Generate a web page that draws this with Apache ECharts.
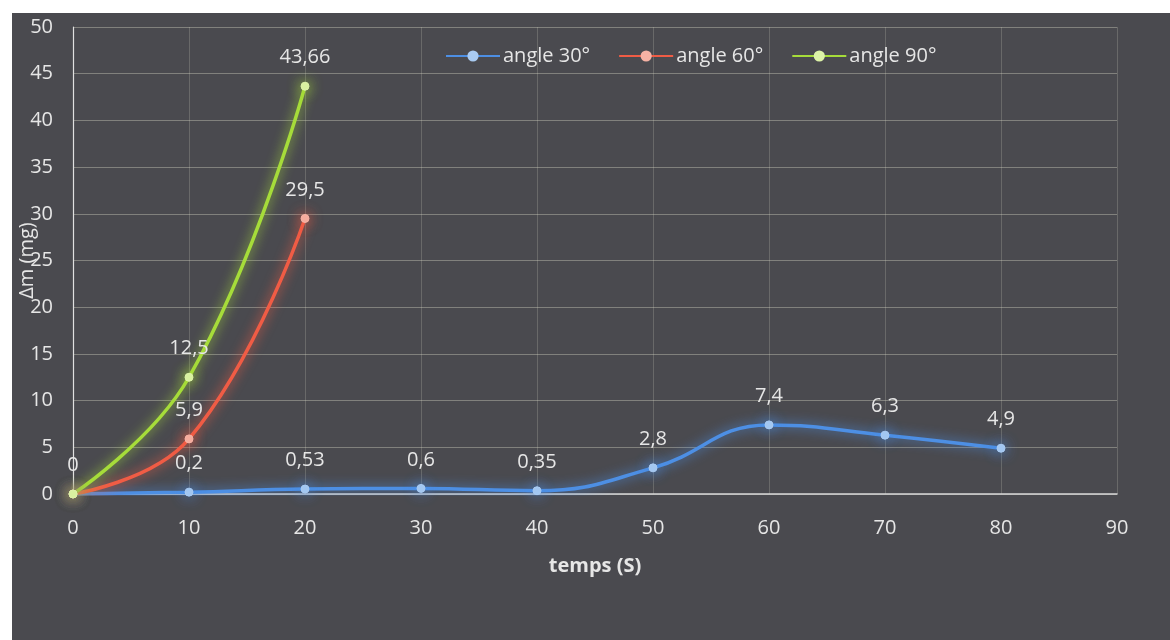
<!DOCTYPE html>
<html>
<head>
<meta charset="utf-8">
<script src="https://cdn.jsdelivr.net/npm/echarts@6/dist/echarts.min.js"></script>
<style>
  html, body { margin: 0; padding: 0; background: #ffffff; }
  #chart { position: absolute; left: 12px; top: 13px; width: 1158px; height: 627px; }
</style>
</head>
<body>
<div id="chart"></div>
<script>
// Mass loss Δm (mg) versus time (s) for three impact angles
const temps = [0, 10, 20, 30, 40, 50, 60, 70, 80];
const angle30 = [0, 0.2, 0.53, 0.6, 0.35, 2.8, 7.4, 6.3, 4.9];
const angle60 = [0, 5.9, 29.5];
const angle90 = [0, 12.5, 43.66];
const seriesNames = ['angle 30°', 'angle 60°', 'angle 90°'];

const FONT = '"Open Sans", "DejaVu Sans", sans-serif';
const TEXT = '#e6e6e6';

function fmt(v) { return String(v).replace('.', ','); }

function pairs(values, showFirst) {
  return values.map((v, i) => {
    const item = { value: [temps[i], v] };
    if (i === 0 && !showFirst) item.label = { show: false };
    return item;
  });
}

function lineSeries(name, values, lineColor, dotColor, showFirst) {
  return {
    name: name,
    type: 'line',
    smooth: 0.45,
    data: pairs(values, showFirst),
    symbol: 'circle',
    symbolSize: 8,
    lineStyle: { color: lineColor, width: 3.5, shadowColor: lineColor, shadowBlur: 12 },
    itemStyle: { color: dotColor, borderColor: dotColor, shadowColor: lineColor, shadowBlur: 14 },
    label: {
      show: true, position: 'top', distance: 14,
      color: TEXT, fontFamily: FONT, fontSize: 20,
      formatter: p => fmt(p.value[1])
    },
    emphasis: { disabled: true },
    z: 3
  };
}

const chart = echarts.init(document.getElementById('chart'), null, { renderer: 'canvas' });
chart.setOption({
  backgroundColor: '#4a4a4f',
  animation: false,
  textStyle: { fontFamily: FONT },
  legend: {
    data: seriesNames,
    left: 428, top: 28,
    itemWidth: 54, itemHeight: 14, itemGap: 28,
    textStyle: { color: TEXT, fontSize: 20, fontFamily: FONT, padding: [0, 0, 0, -2] }
  },
  grid: { left: 61, right: 53, top: 14, bottom: 146, containLabel: false, outerBoundsMode: 'none' },
  xAxis: {
    type: 'value', min: 0, max: 90, interval: 10,
    name: 'temps (S)', nameLocation: 'middle', nameGap: 62, nameMoveOverlap: false,
    nameTextStyle: { color: TEXT, fontSize: 20, fontWeight: 'bold', fontFamily: FONT },
    axisLine: { show: true, onZero: false, lineStyle: { color: '#d8d8d8', width: 1.5 } },
    axisTick: { show: false },
    axisLabel: { color: TEXT, fontSize: 20, margin: 24, fontFamily: FONT },
    splitLine: { show: true, lineStyle: { color: 'rgba(220,220,200,0.22)', width: 1 } }
  },
  yAxis: {
    type: 'value', min: 0, max: 50, interval: 5,
    name: 'Δm (mg)', nameLocation: 'middle', nameGap: 36, nameRotate: 90, nameMoveOverlap: false,
    nameTextStyle: { color: TEXT, fontSize: 20, fontFamily: FONT },
    axisLine: { show: true, lineStyle: { color: '#e0e0e0', width: 1.2 } },
    axisTick: { show: false },
    axisLabel: { color: TEXT, fontSize: 20, margin: 20, fontFamily: FONT },
    splitLine: { show: true, lineStyle: { color: 'rgba(220,220,200,0.38)', width: 1 } }
  },
  series: [
    lineSeries(seriesNames[0], angle30, '#4d8fe4', '#a9cbf2', false),
    lineSeries(seriesNames[1], angle60, '#f05c45', '#f6b2a4', false),
    lineSeries(seriesNames[2], angle90, '#a6dc3a', '#ddf3a8', true)
  ]
});
</script>
</body>
</html>
